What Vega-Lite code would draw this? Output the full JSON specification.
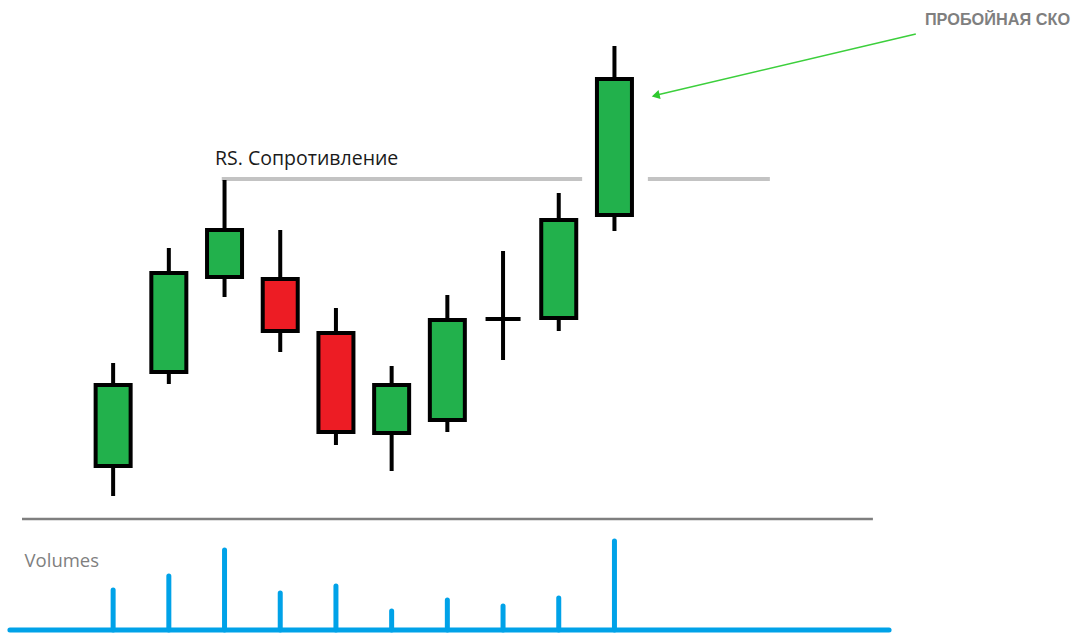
{
  "$schema": "https://vega.github.io/schema/vega-lite/v6.json",
  "width": 1076,
  "height": 633,
  "padding": 0,
  "autosize": {"type": "fit", "contains": "padding"},
  "background": "white",
  "config": {"view": {"stroke": null}},
  "datasets": {
    "candles": [
      {"day": 1, "open": 16.7, "close": 24.8, "high": 27.0, "low": 13.7},
      {"day": 2, "open": 26.1, "close": 36.0, "high": 38.5, "low": 24.9},
      {"day": 3, "open": 35.6, "close": 40.3, "high": 45.3, "low": 33.6},
      {"day": 4, "open": 35.4, "close": 30.2, "high": 40.3, "low": 28.1},
      {"day": 5, "open": 30.0, "close": 20.1, "high": 32.5, "low": 18.8},
      {"day": 6, "open": 20.0, "close": 24.8, "high": 26.7, "low": 16.2},
      {"day": 7, "open": 21.3, "close": 31.3, "high": 33.8, "low": 20.1},
      {"day": 8, "open": 31.4, "close": 31.4, "high": 38.2, "low": 27.3},
      {"day": 9, "open": 31.5, "close": 41.3, "high": 44.0, "low": 30.2},
      {"day": 10, "open": 41.8, "close": 55.4, "high": 58.7, "low": 40.2}
    ],
    "volumes": [
      {"day": 1, "volume": 40},
      {"day": 2, "volume": 54},
      {"day": 3, "volume": 80},
      {"day": 4, "volume": 37},
      {"day": 5, "volume": 44},
      {"day": 6, "volume": 19},
      {"day": 7, "volume": 30},
      {"day": 8, "volume": 24},
      {"day": 9, "volume": 32},
      {"day": 10, "volume": 89}
    ],
    "one": [{}]
  },
  "encoding": {
    "x": {"type": "quantitative", "scale": {"domain": [-1.031, 18.286], "nice": false, "zero": false, "padding": 0}, "axis": null}
  },
  "layer": [
    {
      "encoding": {
        "y": {"type": "quantitative", "scale": {"domain": [0, 63.3], "nice": false, "zero": false}, "axis": null}
      },
      "layer": [
        {
          "data": {"name": "one"},
          "mark": {"type": "rule", "color": "#c3c3c3", "strokeWidth": 4},
          "encoding": {
            "x": {"datum": 2.95, "type": "quantitative"},
            "x2": {"datum": 9.42},
            "y": {"datum": 45.4, "type": "quantitative"}
          }
        },
        {
          "data": {"name": "one"},
          "mark": {"type": "rule", "color": "#c3c3c3", "strokeWidth": 4},
          "encoding": {
            "x": {"datum": 10.6, "type": "quantitative"},
            "x2": {"datum": 12.79},
            "y": {"datum": 45.4, "type": "quantitative"}
          }
        },
        {
          "data": {"name": "candles"},
          "mark": {"type": "rule", "color": "#000000", "strokeWidth": 4},
          "encoding": {
            "x": {"field": "day", "type": "quantitative"},
            "y": {"field": "low", "type": "quantitative"},
            "y2": {"field": "high"}
          }
        },
        {
          "data": {"name": "candles"},
          "mark": {"type": "bar", "size": 35, "stroke": "#000000", "strokeWidth": 4},
          "encoding": {
            "x": {"field": "day", "type": "quantitative"},
            "y": {"field": "open", "type": "quantitative"},
            "y2": {"field": "close"},
            "fill": {
              "condition": {"test": "datum.close >= datum.open", "value": "#22b14c"},
              "value": "#ed1c24"
            }
          }
        },
        {
          "data": {"name": "one"},
          "mark": {"type": "text", "text": "RS. Сопротивление", "align": "left", "baseline": "alphabetic", "font": "Open Sans", "fontSize": 19.5, "color": "#1a1a1a"},
          "encoding": {
            "x": {"datum": 2.83, "type": "quantitative"},
            "y": {"datum": 46.85, "type": "quantitative"}
          }
        },
        {
          "data": {"name": "one"},
          "mark": {"type": "rule", "color": "#7f7f7f", "strokeWidth": 2.5},
          "encoding": {
            "x": {"datum": -0.636, "type": "quantitative"},
            "x2": {"datum": 14.64},
            "y": {"datum": 11.4, "type": "quantitative"}
          }
        },
        {
          "data": {"name": "one"},
          "mark": {"type": "text", "text": "Volumes", "align": "left", "baseline": "alphabetic", "font": "Open Sans", "fontSize": 18.5, "color": "#7f7f7f"},
          "encoding": {
            "x": {"datum": -0.59, "type": "quantitative"},
            "y": {"datum": 6.65, "type": "quantitative"}
          }
        },
        {
          "data": {"name": "one"},
          "mark": {"type": "text", "text": "ПРОБОЙНАЯ СКО", "align": "right", "baseline": "alphabetic", "font": "Liberation Sans", "fontWeight": "bold", "fontSize": 16.3, "color": "#7f7f7f"},
          "encoding": {
            "x": {"datum": 18.18, "type": "quantitative"},
            "y": {"datum": 60.85, "type": "quantitative"}
          }
        },
        {
          "data": {"name": "one"},
          "mark": {"type": "rule", "color": "#3ccf3c", "strokeWidth": 1.6},
          "encoding": {
            "x": {"datum": 15.41, "type": "quantitative"},
            "x2": {"datum": 10.8},
            "y": {"datum": 59.9, "type": "quantitative"},
            "y2": {"datum": 53.85}
          }
        },
        {
          "data": {"name": "one"},
          "mark": {"type": "point", "shape": "triangle-left", "filled": true, "color": "#2ec82e", "size": 85, "angle": -13, "opacity": 1},
          "encoding": {
            "x": {"datum": 10.74, "type": "quantitative"},
            "y": {"datum": 53.75, "type": "quantitative"}
          }
        }
      ]
    },
    {
      "encoding": {
        "y": {"type": "quantitative", "scale": {"domain": [-3, 630], "nice": false, "zero": false}, "axis": null}
      },
      "layer": [
        {
          "data": {"name": "volumes"},
          "mark": {"type": "rule", "color": "#00a2e8", "strokeWidth": 5, "strokeCap": "round"},
          "encoding": {
            "x": {"field": "day", "type": "quantitative"},
            "y": {"field": "volume", "type": "quantitative"},
            "y2": {"datum": 0}
          }
        },
        {
          "data": {"name": "one"},
          "mark": {"type": "rule", "color": "#00a2e8", "strokeWidth": 5, "strokeCap": "round"},
          "encoding": {
            "x": {"datum": -0.853, "type": "quantitative"},
            "x2": {"datum": 14.93},
            "y": {"datum": 0, "type": "quantitative"}
          }
        }
      ]
    }
  ],
  "resolve": {"scale": {"y": "independent"}}
}
